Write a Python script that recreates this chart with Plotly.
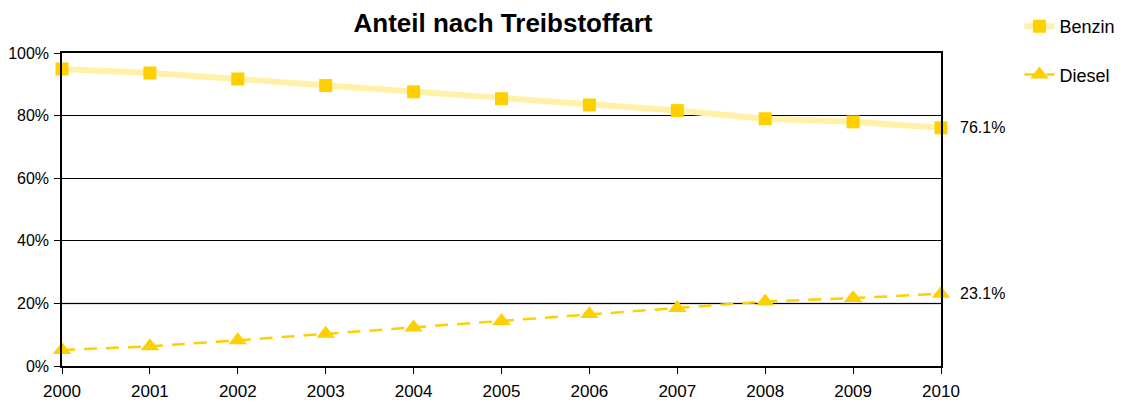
import plotly.graph_objects as go

years = [2000, 2001, 2002, 2003, 2004, 2005, 2006, 2007, 2008, 2009, 2010]
benzin = [94.9, 93.6, 91.7, 89.6, 87.6, 85.4, 83.4, 81.6, 79.0, 78.0, 76.1]
diesel = [5.1, 6.3, 8.2, 10.3, 12.3, 14.4, 16.6, 18.5, 20.6, 21.7, 23.1]
y_ticks = [0, 20, 40, 60, 80, 100]
y_tick_labels = ["0%", "20%", "40%", "60%", "80%", "100%"]

gold = "#FFD000"
light = "#FFF2A8"

fig = go.Figure()
fig.add_trace(go.Scatter(
    x=years, y=benzin, name="Benzin", mode="lines+markers",
    line=dict(color=light, width=6),
    marker=dict(symbol="square", size=13, color=gold),
    legendgroup="b", cliponaxis=False,
))
fig.add_trace(go.Scatter(
    x=years, y=diesel, name="Diesel", mode="lines+markers",
    line=dict(color=gold, width=2.5, dash="13px,9px"),
    marker=dict(symbol="triangle-up", size=16, color=gold),
    legendgroup="d", cliponaxis=False,
))

fig.add_shape(type="line", xref="paper", yref="y", x0=0, x1=1, y0=20, y1=20,
              line=dict(color="#808080", width=1.5), layer="below")

for val in (benzin[-1], diesel[-1]):
    fig.add_annotation(x=years[-1], y=val, xref="x", yref="y",
                       text=f"{val:.1f}%", showarrow=False,
                       xanchor="left", xshift=17,
                       font=dict(size=16, color="#000000"))

fig.update_layout(
    width=1139, height=405,
    margin=dict(l=54, r=206, t=45, b=47),
    paper_bgcolor="white", plot_bgcolor="white",
    font=dict(family="Liberation Sans, Arial, sans-serif", size=16, color="#000000"),
    title=dict(text="<b>Anteil nach Treibstoffart</b>", x=0.4346, xanchor="center",
               xref="container", yref="container",
               y=0.963, yanchor="middle", font=dict(size=26)),
    showlegend=True,
    legend=dict(xref="container", yref="container", x=0.888, y=1.0,
                xanchor="left", yanchor="top",
                font=dict(size=18), tracegroupgap=22, traceorder="grouped",
                bgcolor="rgba(0,0,0,0)"),
)
fig.update_xaxes(
    range=[2000, 2010], tickvals=years, ticktext=[str(y) for y in years],
    tickfont=dict(size=17), automargin=False, ticklabelstandoff=3,
    showline=True, linecolor="black", linewidth=1.5, mirror=True,
    ticks="outside", ticklen=6, tickcolor="black", showgrid=False, zeroline=False,
)
fig.update_yaxes(
    range=[0, 100], tickvals=y_ticks, ticktext=y_tick_labels,
    tickfont=dict(size=16), automargin=False, ticklabelstandoff=2,
    showline=True, linecolor="black", linewidth=1.5, mirror=True,
    ticks="outside", ticklen=6, tickcolor="black",
    showgrid=True, gridcolor="black", gridwidth=1.2, zeroline=False,
)

fig.write_html("out.html")
